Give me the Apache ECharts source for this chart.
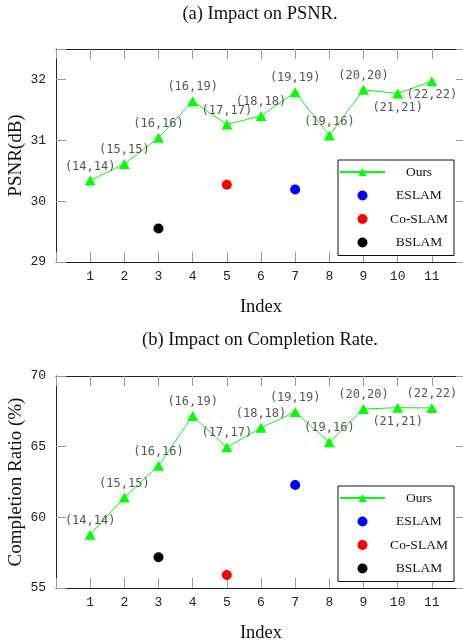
<!DOCTYPE html>
<html>
<head>
<meta charset="utf-8">
<script src="https://cdn.jsdelivr.net/npm/echarts@6/dist/echarts.min.js"></script>
<style>
  html, body { margin: 0; padding: 0; background: #fff; }
  #main { width: 463px; height: 642px; }
</style>
</head>
<body>
<div id="main"></div>
<script>
// data
var xIndex = [1, 2, 3, 4, 5, 6, 7, 8, 9, 10, 11];
var configs = ['(14,14)', '(15,15)', '(16,16)', '(16,19)', '(17,17)', '(18,18)',
  '(19,19)', '(19,16)', '(20,20)', '(21,21)', '(22,22)'];

var psnrOurs = [30.34, 30.61, 31.04, 31.64, 31.26, 31.40, 31.79, 31.08, 31.83, 31.77, 31.97];
var psnrESLAM = [7, 30.19];
var psnrCoSLAM = [5, 30.27];
var psnrBSLAM = [3, 29.55];
var psnrLabelSide = ['top', 'top', 'top', 'top', 'top', 'top', 'top', 'top', 'top', 'bottom', 'bottom'];

var compOurs = [58.77, 61.41, 63.65, 67.17, 64.95, 66.34, 67.45, 65.31, 67.66, 67.76, 67.74];
var compESLAM = [7, 62.29];
var compCoSLAM = [5, 55.92];
var compBSLAM = [3, 57.17];
var compLabelSide = ['top', 'top', 'top', 'top', 'top', 'top', 'top', 'top', 'top', 'bottom', 'top'];

var psnrTicks = [29, 32.5, 1];
var compTicks = [55, 70, 5];

var serif = '"Liberation Serif", "DejaVu Serif", serif';
var mono = '"Liberation Mono", "DejaVu Sans Mono", monospace';
var labelMono = '"DejaVu Sans Mono", "Liberation Mono", monospace';

var chart = echarts.init(document.getElementById('main'), null, { renderer: 'canvas' });

function oursData(values, sides) {
  return values.map(function (v, i) {
    return {
      value: [xIndex[i], v],
      label: { position: sides[i] }
    };
  });
}

function xAxisPair(gridIndex) {
  var base = {
    gridIndex: gridIndex,
    type: 'value',
    min: 0,
    max: 12,
    interval: 1,
    splitLine: { show: false },
    axisLine: { show: true, onZero: false, lineStyle: { color: '#222', width: 1 } },
    axisTick: { show: true, inside: true, length: 10, lineStyle: { color: '#999' } }
  };
  var bottom = Object.assign({}, base, {
    position: 'bottom',
    name: 'Index',
    nameLocation: 'middle',
    nameGap: 36,
    nameTextStyle: { fontFamily: serif, fontSize: 18.5, color: '#111' },
    axisLabel: {
      margin: 8,
      fontFamily: mono,
      fontSize: 13,
      color: '#222',
      formatter: function (v) { return (v < 1 || v > 11) ? '' : String(v); }
    }
  });
  var top = Object.assign({}, base, {
    position: 'top',
    axisLabel: { show: false }
  });
  return [bottom, top];
}

function yAxisPair(gridIndex, ticks, title) {
  var base = {
    gridIndex: gridIndex,
    type: 'value',
    min: ticks[0],
    max: ticks[1],
    interval: ticks[2],
    splitLine: { show: false },
    axisLine: { show: true, onZero: false, lineStyle: { color: '#222', width: 1 } },
    axisTick: { show: true, inside: true, length: 10, lineStyle: { color: '#999' } }
  };
  var left = Object.assign({}, base, {
    position: 'left',
    name: title,
    nameLocation: 'middle',
    nameRotate: 90,
    nameGap: 30,
    nameMoveOverlap: false,
    nameTextStyle: { fontFamily: serif, fontSize: 19, color: '#111' },
    axisLabel: {
      margin: 10,
      fontFamily: mono,
      fontSize: 13,
      color: '#222',
      formatter: function (v) { return Math.round(v) === v ? String(v) : ''; }
    }
  });
  var right = Object.assign({}, base, {
    position: 'right',
    axisLabel: { show: false }
  });
  return [left, right];
}

function legendFor(top) {
  return {
    orient: 'vertical',
    left: 338,
    top: top,
    itemWidth: 45,
    itemHeight: 10,
    itemGap: 9.5,
    padding: [5, 6, 6, 1],
    backgroundColor: '#fff',
    borderColor: '#111',
    borderWidth: 1,
    borderRadius: 0,
    data: ['Ours', 'ESLAM', 'Co-SLAM', 'BSLAM'],
    formatter: '{t|{name}}',
    textStyle: {
      rich: {
        t: { width: 58, align: 'center', fontFamily: serif, fontSize: 13.5, lineHeight: 14, color: '#111' }
      }
    }
  };
}

function dot(name, k, point, color) {
  return {
    name: name, type: 'scatter', xAxisIndex: 2 * k, yAxisIndex: 2 * k,
    data: [point], symbol: 'circle', symbolSize: 10,
    itemStyle: { color: color, opacity: 1 }
  };
}

function seriesFor(k, ours, sides, eslam, coslam, bslam) {
  return [
    {
      name: 'Ours',
      type: 'line',
      xAxisIndex: 2 * k,
      yAxisIndex: 2 * k,
      data: oursData(ours, sides),
      symbol: 'triangle',
      symbolSize: [11, 10],
      itemStyle: { color: '#00ff00' },
      lineStyle: { color: '#00ff00', width: 1 },
      label: {
        show: true,
        distance: 3,
        fontFamily: labelMono,
        fontSize: 12,
        color: '#555',
        formatter: function (p) { return configs[p.dataIndex]; }
      },
      z: 3
    },
    dot('ESLAM', k, eslam, '#0000ff'),
    dot('Co-SLAM', k, coslam, '#ff0000'),
    dot('BSLAM', k, bslam, '#000000')
  ];
}

var option = {
  animation: false,
  backgroundColor: '#fff',
  title: [
    {
      text: '(a) Impact on PSNR.',
      left: 260, top: 5, textAlign: 'center', padding: 0,
      textStyle: { fontFamily: serif, fontSize: 18.5, fontWeight: 'normal', color: '#111' }
    },
    {
      text: '(b) Impact on Completion Rate.',
      left: 260, top: 331, textAlign: 'center', padding: 0,
      textStyle: { fontFamily: serif, fontSize: 18.5, fontWeight: 'normal', color: '#111' }
    }
  ],
  legend: [legendFor(160), legendFor(486)],
  grid: [
    { left: 56, top: 49, right: -3, height: 213, outerBoundsMode: 'none' },
    { left: 56, top: 376, right: -3, height: 212, outerBoundsMode: 'none' }
  ],
  xAxis: xAxisPair(0).concat(xAxisPair(1)),
  yAxis: yAxisPair(0, psnrTicks, 'PSNR(dB)').concat(yAxisPair(1, compTicks, 'Completion Ratio (%)')),
  series: seriesFor(0, psnrOurs, psnrLabelSide, psnrESLAM, psnrCoSLAM, psnrBSLAM)
    .concat(seriesFor(1, compOurs, compLabelSide, compESLAM, compCoSLAM, compBSLAM))
};

chart.setOption(option);
</script>
</body>
</html>
